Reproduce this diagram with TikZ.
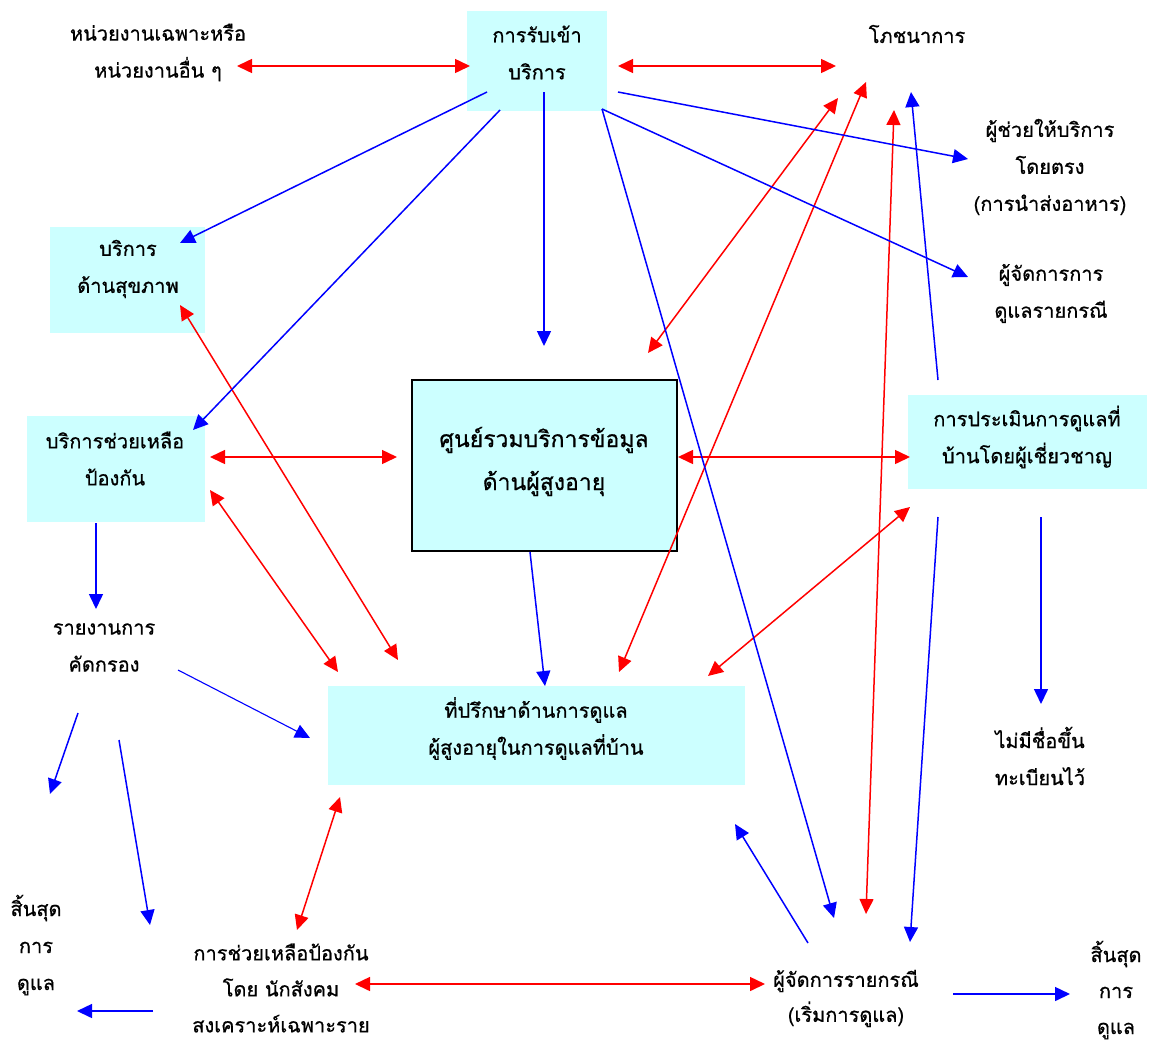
\documentclass[tikz,border=0pt]{standalone}
\usepackage{fontspec}
\newfontfamily\thaifont[Script=Thai,FakeBold=0.7]{Loma}
\usetikzlibrary{arrows.meta}
\definecolor{boxcyan}{RGB}{204,255,255}
\begin{document}
\begin{tikzpicture}[x=1pt,y=-1pt,
 txt/.style={font=\thaifont\fontsize{20}{37}\selectfont, align=center, inner sep=0pt},
 bigtxt/.style={font=\thaifont\fontsize{23}{43}\selectfont, align=center, inner sep=0pt},
 boxst/.style={fill=boxcyan, draw=none, inner sep=0pt},
 ctrbox/.style={fill=boxcyan, draw=black, line width=1.5pt, inner sep=0pt},
 tip/.tip={Triangle[length=15pt,width=14pt]},
 redarr/.style={draw=red, line width=1.5pt, tip-tip},
 bluearr/.style={draw=blue, line width=1.5pt, -tip},
 thinblue/.style={draw=blue, line width=1.1pt, -tip},
]
\useasboundingbox (0,0) rectangle (1150,1039);
% boxes
\node[boxst, minimum width=140pt, minimum height=100pt] (intake) at (537,61) {};
\node[boxst, minimum width=155pt, minimum height=106pt] (health) at (127.5,280) {};
\node[boxst, minimum width=178pt, minimum height=106pt] (prev) at (116,469) {};
\node[ctrbox, minimum width=265pt, minimum height=171pt] (center) at (544.5,465.5) {};
\node[boxst, minimum width=417pt, minimum height=99pt] (advis) at (536.5,735.5) {};
\node[boxst, minimum width=239pt, minimum height=94pt] (assess) at (1027.5,442) {};
% texts
\node[txt] (intake-t) at (537,52.5) {การรับเข้า\\บริการ};
\node[txt] (health-t) at (128,269) {บริการ\\ด้านสุขภาพ};
\node[txt] (prev-t) at (115,458.5) {บริการช่วยเหลือ\\ป้องกัน};
\node[bigtxt] (center-t) at (544,461.5) {ศูนย์รวมบริการข้อมูล\\ด้านผู้สูงอายุ};
\node[txt] (advis-t) at (536,728.5) {ที่ปรึกษาด้านการดูแล\\ผู้สูงอายุในการดูแลที่บ้าน};
\node[txt] (assess-t) at (1027,437) {การประเมินการดูแลที่\\บ้านโดยผู้เชี่ยวชาญ};
\node[txt] (agency) at (158,52.5) {หน่วยงานเฉพาะหรือ\\หน่วยงานอื่น ๆ};
\node[txt] (nutri) at (917,34) {โภชนาการ};
\node[txt] (direct) at (1050,167) {ผู้ช่วยให้บริการ\\โดยตรง\\(การนำส่งอาหาร)};
\node[txt] (cmgmt) at (1051,293.5) {ผู้จัดการการ\\ดูแลรายกรณี};
\node[txt] (screen) at (104,647.5) {รายงานการ\\คัดกรอง};
\node[txt] (notreg) at (1040,756) {ไม่มีชื่อขึ้น\\ทะเบียนไว้};
\node[txt] (endL) at (36,945) {สิ้นสุด\\การ\\ดูแล};
\node[txt, font=\thaifont\fontsize{20}{36}\selectfont] (social) at (281,988) {การช่วยเหลือป้องกัน\\โดย นักสังคม\\สงเคราะห์เฉพาะราย};
\node[txt, font=\thaifont\fontsize{20}{35}\selectfont] (cmgr) at (846,998.5) {ผู้จัดการรายกรณี\\(เริ่มการดูแล)};
\node[txt, font=\thaifont\fontsize{20}{36}\selectfont] (endR) at (1116,990) {สิ้นสุด\\การ\\ดูแล};
% connector end points
\coordinate (r1a) at (237,66); \coordinate (r1b) at (470,66);
\coordinate (r2a) at (618,66); \coordinate (r2b) at (836,66);
\coordinate (r3a) at (210,457); \coordinate (r3b) at (397,457);
\coordinate (r4a) at (678,457); \coordinate (r4b) at (910,457);
\coordinate (r5a) at (180,305); \coordinate (r5b) at (398,660);
\coordinate (r6a) at (210,490); \coordinate (r6b) at (338,672);
\coordinate (r7a) at (648,353); \coordinate (r7b) at (838,98);
\coordinate (r8a) at (619,672); \coordinate (r8b) at (866,82);
\coordinate (r9a) at (866,914); \coordinate (r9b) at (894,110);
\coordinate (r10a) at (708,676); \coordinate (r10b) at (910,507);
\coordinate (r11a) at (297,930); \coordinate (r11b) at (340,797);
\coordinate (r12a) at (355,984); \coordinate (r12b) at (765,984);
\coordinate (ba1) at (487,92); \coordinate (ba2) at (180,243);
\coordinate (bb1) at (500,110); \coordinate (bb2) at (193,430);
\coordinate (bc1) at (544,92); \coordinate (bc2) at (544,346);
\coordinate (bd1) at (602,109); \coordinate (bd2) at (834,918);
\coordinate (be1) at (618,92); \coordinate (be2) at (968,159);
\coordinate (bf2) at (968,277);
\coordinate (bg1) at (938,380); \coordinate (bg2) at (911,92);
\coordinate (bh1) at (938,517); \coordinate (bh2) at (910,942);
\coordinate (bi1) at (1041,517); \coordinate (bi2) at (1041,704);
\coordinate (bj1) at (530,552); \coordinate (bj2) at (545,686);
\coordinate (bk1) at (96,523); \coordinate (bk2) at (96,609);
\coordinate (bl1) at (178,670); \coordinate (bl2) at (310,738);
\coordinate (bm1) at (78,713); \coordinate (bm2) at (50,794);
\coordinate (bn1) at (119,740); \coordinate (bn2) at (150,925);
\coordinate (bo1) at (153,1011); \coordinate (bo2) at (77,1011);
\coordinate (bp1) at (808,943); \coordinate (bp2) at (735,824);
\coordinate (bq1) at (953,994); \coordinate (bq2) at (1070,994);
% red connectors
\draw[redarr] (r1a) -- (r1b);
\draw[redarr] (r2a) -- (r2b);
\draw[redarr] (r3a) -- (r3b);
\draw[redarr] (r4a) -- (r4b);
\draw[redarr] (r5a) -- (r5b);
\draw[redarr] (r6a) -- (r6b);
\draw[redarr] (r7a) -- (r7b);
\draw[redarr] (r8a) -- (r8b);
\draw[redarr] (r9a) -- (r9b);
\draw[redarr] (r10a) -- (r10b);
\draw[redarr] (r11a) -- (r11b);
\draw[redarr] (r12a) -- (r12b);
% blue connectors
\draw[bluearr] (ba1) -- (ba2);
\draw[bluearr] (bb1) -- (bb2);
\draw[bluearr] (bc1) -- (bc2);
\draw[bluearr] (bd1) -- (bd2);
\draw[bluearr] (be1) -- (be2);
\draw[bluearr] (bd1) -- (bf2);
\draw[bluearr] (bg1) -- (bg2);
\draw[bluearr] (bh1) -- (bh2);
\draw[bluearr] (bi1) -- (bi2);
\draw[bluearr] (bj1) -- (bj2);
\draw[bluearr] (bk1) -- (bk2);
\draw[thinblue] (bl1) -- (bl2);
\draw[bluearr] (bm1) -- (bm2);
\draw[bluearr] (bn1) -- (bn2);
\draw[bluearr] (bo1) -- (bo2);
\draw[bluearr] (bp1) -- (bp2);
\draw[bluearr] (bq1) -- (bq2);
\end{tikzpicture}
\end{document}
